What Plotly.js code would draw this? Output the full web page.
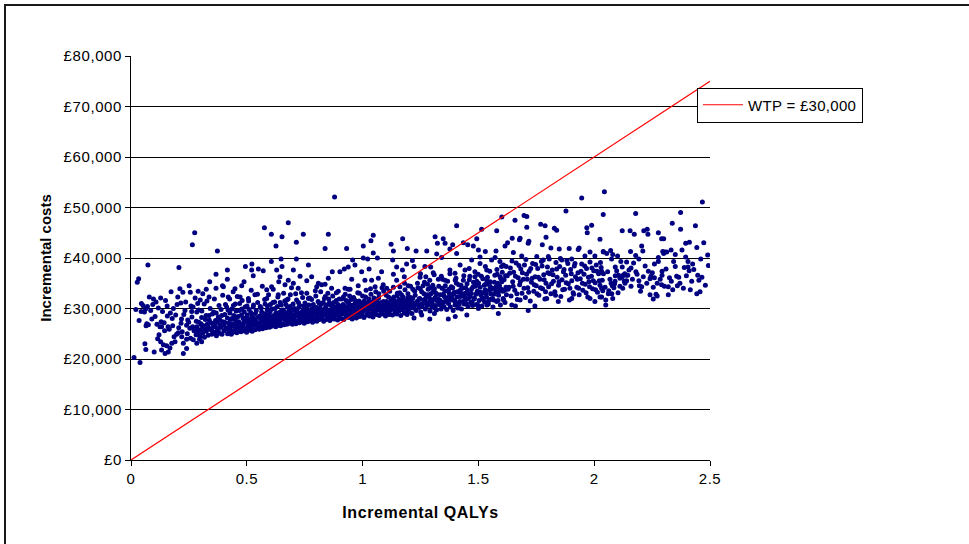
<!DOCTYPE html>
<html>
<head>
<meta charset="utf-8">
<script src="https://cdn.plot.ly/plotly-3.0.1.min.js"></script>
<style>
  html, body { margin:0; padding:0; background:#fff; overflow:hidden; }
  #wrap { position:relative; width:969px; height:544px; }
  #chart { position:absolute; left:0; top:0; width:969px; height:544px; }
  #frame { position:absolute; left:4px; top:4px; width:990px; height:600px; border:2px solid #1a1a1a; box-sizing:border-box; pointer-events:none; }
  .ytick text { letter-spacing:0.6px; }
  .xtick text { letter-spacing:0.5px; }
  .xtitle { letter-spacing:0.6px; }
  .legendtext { letter-spacing:0.3px; }
</style>
</head>
<body>
<div id="wrap"><div id="chart"></div><div id="frame"></div></div>
<script>
// Incremental QALYs / incremental costs (£) of the probabilistic simulations
const simulations = [
// sparse left part
[0.013,20300],[0.039,19300],[0.275,45000],[0.265,42600],[0.373,41400],[0.073,38600],[0.207,38100],[0.033,35900],[0.027,35200],
[0.367,36800],[0.340,35300],[0.395,34500],[0.367,34000],[0.290,33400],[0.325,33800],[0.310,32900],[0.224,33200],[0.256,33200],
[0.202,32300],[0.337,32300],[0.079,32300],[0.128,32100],[0.108,31300],[0.045,31000],[0.071,30400],[0.063,29900],[0.044,29400],
[0.058,29300],[0.094,30800],[0.156,30500],[0.215,31100],[0.259,30500],[0.288,31000],[0.183,30000],[0.233,29600],[0.262,29400],
[0.284,29300],[0.157,28500],[0.178,28000],[0.218,27900],[0.245,27700],[0.266,26400],[0.130,27400],[0.125,26400],[0.132,26400],
[0.160,26400],[0.068,27000],[0.075,26800],[0.065,26600],[0.216,27100],[0.240,26700],[0.254,26100],[0.284,26400],[0.305,26700],
[0.197,24900],[0.204,25200],[0.219,24400],[0.240,23900],[0.226,23100],[0.190,23400],[0.176,23100],[0.154,22600],[0.140,22800],
[0.128,23400],[0.132,21800],[0.147,21100],[0.161,21400],[0.100,21400],[0.060,23000],[0.064,21900],[0.226,21100],[0.240,22100],
[0.269,23800],[0.284,23100],[0.305,23400],
[0.021,29800],[0.035,27600],[0.052,30600],[0.085,29600],[0.090,27900],[0.097,31900],[0.104,28400],[0.112,26900],[0.118,30100],
[0.121,24800],[0.136,29400],[0.143,27200],[0.149,31600],[0.165,25900],[0.170,29100],[0.173,33300],[0.180,26600],[0.186,24400],
[0.193,28700],[0.199,30800],[0.206,26200],[0.211,33900],[0.221,25400],[0.228,28800],[0.236,31300],[0.243,25000],[0.249,27300],
[0.251,34500],[0.257,24100],[0.263,28300],[0.268,30300],[0.272,25600],[0.277,32100],[0.282,27500],[0.292,29700],[0.296,23900],
[0.299,31700],[0.115,24000],[0.168,22200],[0.145,25600],
// sparse 0.4 - 0.8
[0.576,46000],[0.679,47000],[0.606,44700],[0.652,44200],[0.626,42400],[0.714,43100],[0.744,44700],[0.714,39800],[0.648,39800],
[0.606,39300],[0.522,38800],[0.494,38300],[0.416,37600],[0.521,37600],[0.550,37800],[0.571,37500],[0.629,37600],[0.652,38300],
[0.701,37600],[0.766,38600],[0.528,36500],[0.416,35800],[0.488,35300],[0.643,36300],[0.679,35600],[0.730,36400],[0.780,36300],
[0.665,34700],[0.701,35000],[0.759,35500],[0.478,34500],[0.449,33900],[0.399,34300],[0.586,33700],[0.607,34300],[0.636,32700],
[0.722,34000],[0.802,34300],[0.535,32700],[0.471,32300],[0.420,32300],[0.507,32000],[0.586,32000],[0.672,31700],[0.766,32000],
// sparse 0.8 - 1.2
[0.879,52100],[0.852,44700],[0.838,41900],[0.931,41900],[1.003,42400],[1.036,43400],[1.046,44500],[1.046,41000],[1.123,42700],
[1.133,41400],[1.173,43800],[1.193,41900],[1.003,40000],[1.022,39800],[1.064,40000],[1.130,39600],[0.957,39600],[0.967,38600],
[0.921,37800],[0.902,37300],[0.869,37300],[0.938,38200],[0.996,37300],[1.028,37800],[1.082,37300],[1.147,38200],[1.172,37600],
[1.190,38800],[1.215,39500],[0.852,36000],[0.809,35000],[0.823,34700],[0.838,34800],[0.953,35800],[1.010,35600],[1.039,35600],
[1.068,36000],[1.133,36800],[1.147,35600],[1.180,36300],[0.866,34000],[0.924,34000],[0.938,33800],[0.981,34500],[1.054,34300],
[1.089,34700],[1.104,34000],[1.161,34300],[1.197,34500],
// sparse 1.2 - 1.6
[1.406,46400],[1.313,44200],[1.348,43800],[1.356,42900],[1.323,42900],[1.389,42600],[1.435,43000],[1.514,45700],[1.579,45400],
[1.601,48100],[1.493,43800],[1.454,42600],[1.478,42400],[1.231,41400],[1.277,41400],[1.320,40800],[1.377,41800],[1.406,40900],
[1.500,41600],[1.530,41300],[1.576,41400],[1.615,42400],[1.341,40100],[1.222,38300],[1.269,38300],[1.294,38200],[1.305,37100],
[1.377,37600],[1.399,37000],[1.421,38600],[1.442,37600],[1.471,39600],[1.507,38900],[1.507,40200],[1.557,39600],[1.572,40100],
[1.593,39300],[1.608,38600],[1.620,38300],[1.248,36200],[1.290,35600],[1.356,35600],[1.485,36300],[1.536,37600],[1.594,36300],
[1.222,28100],[1.255,28700],[1.290,27900],[1.310,29000],[1.370,27900],[1.400,28400],[1.450,28700],[1.500,30000],[1.537,30700],
[1.586,29000],
// sparse 1.6 - 2.05
[2.044,53100],[1.946,51900],[1.878,49300],[1.697,48400],[1.709,48200],[1.658,47500],[1.769,46700],[1.788,46400],[1.709,46100],
[1.828,45900],[1.838,45500],[1.989,46500],[1.968,46000],[1.970,45000],[1.792,44100],[1.680,43900],[1.677,43600],[1.646,43900],
[1.626,43000],[1.715,42900],[1.718,43300],[1.776,42600],[1.813,42000],[1.849,41800],[1.892,41900],[1.931,41700],[1.935,42000],
[2.025,43700],[2.040,41200],[1.982,41200],[1.687,40400],[1.651,41100],[1.752,40300],[1.802,40300],[1.780,39600],[1.860,39600],
[1.903,39800],[1.960,40400],[2.003,40400],[1.644,30700],[1.660,30500],[1.715,29600],[1.744,30500],[1.680,31700],[1.795,32000],
[1.845,31400],[1.903,32000],[1.982,32000],[2.003,31400],[2.032,32300],
// sparse right part
[2.467,51100],[2.039,48600],[2.179,48800],[2.373,49000],[2.337,46900],[2.437,46400],[2.373,45700],[2.121,45400],[2.155,45400],
[2.173,44700],[2.214,45400],[2.229,45700],[2.232,44700],[2.277,45000],[2.291,43800],[2.300,43800],[2.395,42900],[2.411,43100],
[2.473,43000],[2.205,42400],[2.210,41400],[2.443,42100],[2.379,41600],[2.332,41600],[2.296,41300],[2.305,41200],[2.313,41200],
[2.300,40900],[2.157,41300],[2.179,40500],[2.193,39800],[2.039,41300],[2.054,40900],[2.071,41500],[2.080,40700],[2.075,39800],
[2.101,40400],[2.277,40100],[2.277,39300],[2.343,39300],[2.405,39300],[2.425,38800],[2.389,38100],[2.405,38200],[2.410,37500],
[2.493,38500],[2.091,38200],[2.121,38200],[2.159,38000],[2.032,37400],[2.025,37200],[2.105,36600],[2.125,36600],[2.132,36900],
[2.138,36600],[2.145,36600],[2.120,36200],[2.111,36000],[2.091,36500],[2.234,37400],[2.251,37100],[2.293,37400],[2.293,36600],
[2.212,36300],[2.241,35900],[2.356,36400],[2.365,36200],[2.447,36600],[2.452,35600],[2.421,35400],[2.333,35400],[2.068,35800],
[2.073,35000],[2.078,34500],[2.088,34900],[2.090,35400],[2.133,35000],[2.130,35400],[2.193,35500],[2.195,34500],[2.205,34300],
[2.159,34400],[2.111,34400],[2.123,34000],[2.085,34100],[2.032,34000],[2.047,34200],[2.227,35000],[2.255,34200],[2.272,35000],
[2.291,34700],[2.303,34400],[2.320,34300],[2.359,34500],[2.339,33700],[2.061,32900],[2.076,32900],[2.050,31700],[2.050,30700],
[2.080,32000],[2.025,32300],[2.241,32700],[2.255,31900],[2.267,32800],[2.272,32500],[2.443,32900],[2.457,33300],
[2.058,37300],[2.063,33500],[2.097,37500],[2.103,33100],[2.115,39300],[2.140,35500],[2.150,37600],[2.165,35800],[2.170,39000],
[2.185,36800],[2.200,33400],[2.220,38400],[2.245,36400],[2.260,38800],[2.285,35800],[2.310,37800],[2.325,36100],[2.350,38300],
[2.370,35000],[2.385,34000],[2.398,36500],[2.415,33700],[2.430,37700],[2.465,36200],[2.480,34600],[2.490,40600],[2.350,40700],
[2.260,36100],[2.180,37300],[2.140,39200],[2.395,40200],[2.320,32700],[2.460,39800],
// dense band 0.28 - 0.42
[0.281,24800],[0.285,26000],[0.289,25300],[0.293,27300],[0.297,24500],[0.301,25800],[0.305,28200],[0.309,25100],[0.313,26600],
[0.317,24300],[0.321,27800],[0.325,25500],[0.329,26900],[0.333,24700],[0.337,28600],[0.341,25900],[0.345,27200],[0.349,24900],
[0.353,26300],[0.357,29300],[0.361,25300],[0.365,27600],[0.369,24600],[0.373,26000],[0.377,28300],[0.381,25100],[0.385,26800],
[0.389,29800],[0.393,24900],[0.397,27400],[0.401,25600],[0.405,28800],[0.409,26200],[0.413,30300],[0.417,25000],
[0.302,27000],[0.306,29500],[0.311,26100],[0.316,30900],[0.320,25900],[0.324,28600],[0.328,31500],[0.333,26400],[0.338,27700],
[0.342,30000],[0.347,25800],[0.351,28900],[0.356,27000],[0.360,31900],[0.364,26500],[0.368,29100],[0.372,27300],[0.376,25700],
[0.380,30600],[0.384,27700],[0.388,26300],[0.392,28600],[0.396,32600],[0.400,26800],[0.404,27300],[0.408,30800],[0.412,25900],
[0.416,28100],[0.419,29700],
// dense band 0.42 - 0.60
[0.421,27100],[0.424,25700],[0.427,29100],[0.430,26400],[0.433,24900],[0.436,28000],[0.439,25300],[0.442,30600],[0.445,26800],
[0.448,25500],[0.451,27700],[0.454,29500],[0.457,25200],[0.460,26200],[0.463,28400],[0.466,25800],[0.469,31000],[0.472,27000],
[0.475,25400],[0.478,29900],[0.481,26500],[0.484,28000],[0.487,25600],[0.490,27400],[0.493,30300],[0.496,26000],[0.499,25300],
[0.502,28700],[0.505,26700],[0.508,31500],[0.511,25700],[0.514,27800],[0.517,29200],[0.520,26300],[0.523,25500],[0.526,28200],
[0.529,30700],[0.532,26900],[0.535,25800],[0.538,27500],[0.541,29600],[0.544,26100],[0.547,31200],[0.550,27000],[0.553,25900],
[0.556,28500],[0.559,26400],[0.562,30100],[0.565,27700],[0.568,26000],[0.571,29000],[0.574,26700],[0.577,31800],[0.580,27300],
[0.583,26200],[0.586,28100],[0.589,30500],[0.592,26800],[0.595,27900],[0.598,26300],
[0.423,26300],[0.426,31900],[0.429,27800],[0.432,25600],[0.435,29900],[0.438,27000],[0.441,33300],[0.444,28600],[0.447,26400],
[0.450,30900],[0.453,28300],[0.456,26900],[0.459,32400],[0.465,27400],[0.468,29600],[0.474,26300],[0.477,28700],[0.480,31600],
[0.486,27100],[0.489,29300],[0.492,25900],[0.498,28200],[0.501,30500],[0.504,27500],[0.507,26300],[0.510,29800],[0.516,27000],
[0.519,33600],[0.522,28400],[0.525,26600],[0.528,30300],[0.531,27900],[0.537,29000],[0.540,26800],[0.546,32800],[0.549,28200],
[0.555,27200],[0.558,30400],[0.561,27300],[0.564,29300],[0.567,34400],[0.570,27600],[0.576,28700],[0.579,30900],[0.585,27300],
[0.588,29700],[0.591,27600],[0.594,32700],[0.597,28800],
// dense band 0.60 - 0.82
[0.601,29400],[0.604,27100],[0.607,26500],[0.610,28300],[0.613,31200],[0.616,26900],[0.619,27600],[0.622,30000],[0.625,26400],
[0.628,28800],[0.631,27300],[0.634,32300],[0.637,26700],[0.640,29200],[0.643,27900],[0.646,26600],[0.649,30700],[0.652,28300],
[0.655,27000],[0.658,29700],[0.661,26800],[0.664,31500],[0.667,27700],[0.670,28900],[0.673,26900],[0.676,30300],[0.679,27400],
[0.682,28500],[0.685,27100],[0.688,32700],[0.691,29100],[0.694,27800],[0.697,26900],[0.700,30900],[0.703,28200],[0.706,27300],
[0.709,29600],[0.712,27000],[0.715,31700],[0.718,28700],[0.721,27600],[0.724,30200],[0.727,27200],[0.730,29000],[0.733,28000],
[0.736,33100],[0.739,27400],[0.742,29400],[0.745,28400],[0.748,27100],[0.751,31100],[0.754,28800],[0.757,27700],[0.760,30500],
[0.763,27400],[0.766,29300],[0.769,28200],[0.772,32100],[0.775,27600],[0.778,29800],[0.781,28600],[0.784,27300],[0.787,30800],
[0.790,28900],[0.793,27900],[0.796,33500],[0.799,29500],[0.802,27500],[0.805,28400],[0.808,31400],[0.811,29000],[0.814,27800],
[0.817,30100],[0.820,28300],
[0.452,26000],[0.462,27300],[0.471,25800],[0.483,26600],[0.494,27900],[0.503,26200],[0.513,26900],[0.524,27400],[0.533,28000],
[0.543,27300],[0.552,26700],[0.563,28100],[0.573,27900],[0.582,28900],[0.593,28500],[0.603,27800],[0.612,26800],[0.623,27200],
[0.633,28600],[0.642,27500],[0.653,29100],[0.662,27900],[0.672,28100],[0.683,29300],[0.692,28100],[0.702,27800],[0.713,28500],
[0.722,29100],[0.732,27700],[0.743,28800],[0.752,28000],[0.762,28900],[0.773,29100],[0.782,28000],[0.792,29400],[0.803,28900],
[0.812,28300],[0.818,29700],
[0.602,30800],[0.605,28000],[0.608,29900],[0.611,27500],[0.614,33800],[0.617,28600],[0.620,31300],[0.626,29100],[0.629,27900],
[0.632,30400],[0.635,28400],[0.638,35300],[0.641,27600],[0.644,31200],[0.647,28800],[0.650,29600],[0.656,28100],[0.659,33000],
[0.663,29200],[0.666,28300],[0.669,30800],[0.675,27900],[0.678,31900],[0.681,29500],[0.684,28000],[0.687,30400],[0.690,28700],
[0.693,34100],[0.696,29800],[0.699,28400],[0.705,30000],[0.708,28800],[0.711,32900],[0.717,29400],[0.720,28500],[0.723,31200],
[0.726,28800],[0.729,30600],[0.735,29200],[0.738,28400],[0.741,32200],[0.744,29700],[0.747,30500],[0.750,28700],[0.756,29500],
[0.759,33000],[0.765,28600],[0.768,30700],[0.771,29600],[0.777,28400],[0.780,31800],[0.783,29900],[0.786,28800],[0.789,30300],
[0.795,29100],[0.798,32500],[0.801,30200],[0.807,29600],[0.810,28500],[0.813,31000],[0.816,29300],[0.819,33300],
// dense band 0.82 - 1.22
[0.823,30900],[0.826,28000],[0.829,29200],[0.832,27500],[0.835,32000],[0.838,28700],[0.841,30300],[0.844,27800],[0.847,29600],
[0.850,33000],[0.853,28300],[0.856,31100],[0.859,27600],[0.862,29000],[0.865,30600],[0.868,28100],[0.871,32500],[0.874,29400],
[0.877,27900],[0.880,30000],[0.883,28600],[0.886,31600],[0.889,29100],[0.892,27700],[0.895,33400],[0.898,28400],[0.901,30400],
[0.904,29700],[0.907,28000],[0.910,31900],[0.913,28900],[0.916,30800],[0.919,27800],[0.922,29300],[0.925,32800],[0.928,28500],
[0.931,30100],[0.934,29000],[0.937,31300],[0.940,28200],[0.943,29800],[0.946,33800],[0.949,28800],[0.952,30600],[0.955,27900],
[0.958,29500],[0.961,32200],[0.964,28600],[0.967,31000],[0.970,29200],[0.973,28100],[0.976,30300],[0.979,33100],[0.982,29000],
[0.985,31500],[0.988,28400],[0.991,29900],[0.994,30800],[0.997,28800],[1.000,32500],[1.003,29400],[1.006,28200],[1.009,31200],
[1.012,29700],[1.015,33600],[1.018,28700],[1.021,30500],[1.024,29200],[1.027,31900],[1.030,28500],[1.033,30100],[1.036,32800],
[1.039,29000],[1.042,30900],[1.045,28300],[1.048,29600],[1.051,31600],[1.054,29300],[1.057,33300],[1.060,28800],[1.063,30400],
[1.066,29800],[1.069,32100],[1.072,28600],[1.075,31100],[1.078,29400],[1.081,30000],[1.084,34100],[1.087,28900],[1.090,31400],
[1.093,29700],[1.096,30600],[1.099,28500],[1.102,32600],[1.105,29200],[1.108,31000],[1.111,30200],[1.114,28800],[1.117,33400],
[1.120,29600],[1.123,31700],[1.126,30400],[1.129,28700],[1.132,29900],[1.135,32300],[1.138,30800],[1.141,29300],[1.144,31200],
[1.147,28900],[1.150,33000],[1.153,30100],[1.156,29500],[1.159,31800],[1.162,30600],[1.165,28600],[1.168,32700],[1.171,29800],
[1.174,31000],[1.177,30300],[1.180,29100],[1.183,33700],[1.186,31500],[1.189,30000],[1.192,28800],[1.195,32100],[1.198,30700],
[1.201,29400],[1.204,31300],[1.207,34400],[1.210,30200],[1.213,29000],[1.216,32000],[1.219,30900],
[0.827,28900],[0.837,29900],[0.848,28500],[0.858,29700],[0.869,29300],[0.879,28800],[0.890,30200],[0.900,29100],[0.911,29900],
[0.921,30600],[0.932,28700],[0.942,30900],[0.953,29300],[0.963,30200],[0.974,29600],[0.984,30500],[0.995,29600],[1.005,30700],
[1.016,30100],[1.026,29800],[1.037,31300],[1.047,30300],[1.058,30800],[1.068,31000],[1.079,30600],[1.089,30100],[1.100,31000],
[1.110,29500],[1.121,30500],[1.131,31000],[1.142,30200],[1.152,31300],[1.163,29700],[1.173,31900],[1.184,30700],[1.194,29700],
[1.205,30600],[1.215,31100],
[0.824,29500],[0.830,31200],[0.833,28900],[0.839,32400],[0.842,29600],[0.845,30700],[0.851,29000],[0.854,31900],[0.857,28500],
[0.863,30900],[0.866,29700],[0.872,28800],[0.875,31200],[0.878,30300],[0.884,29400],[0.887,33100],[0.893,30800],[0.896,29400],
[0.899,31900],[0.905,28900],[0.908,30500],[0.914,29800],[0.917,32300],[0.923,30300],[0.926,29300],[0.929,31600],[0.935,30300],
[0.938,29500],[0.944,32500],[0.947,29900],[0.950,31800],[0.956,30600],[0.959,29700],[0.965,31800],[0.968,30300],[0.971,29800],
[0.977,31400],[0.980,30000],[0.986,33000],[0.989,29900],[0.992,31100],[0.998,30200],[1.001,29800],[1.007,31500],[1.010,30300],
[1.013,32300],[1.019,30700],[1.022,29800],[1.028,31200],[1.031,30400],[1.034,33900],[1.040,30600],[1.043,29900],[1.049,32100],
[1.052,30900],[1.055,29800],[1.061,31400],[1.064,30100],[1.070,32900],[1.073,30500],[1.076,29900],[1.082,31200],[1.085,30400],
[1.091,33400],[1.094,30900],[1.097,29800],[1.103,31400],[1.106,30400],[1.112,32300],[1.115,30800],[1.118,29900],[1.124,31900],
[1.127,30800],[1.133,34200],[1.136,30300],[1.139,31500],[1.145,30000],[1.148,32500],[1.154,31000],[1.157,30400],[1.160,33100],
[1.166,31200],[1.169,30200],[1.175,32300],[1.178,30800],[1.181,35000],[1.187,31300],[1.190,30300],[1.196,32900],[1.199,31400],
[1.202,30600],[1.208,32200],[1.211,31300],[1.217,33800],[1.220,30100],
// dense band 1.22 - 1.62
[1.223,30500],[1.227,32600],[1.231,29600],[1.235,31400],[1.239,34100],[1.243,30200],[1.247,32000],[1.251,29300],[1.255,33300],
[1.259,30900],[1.263,31700],[1.267,35200],[1.271,29900],[1.275,32400],[1.279,30600],[1.283,33800],[1.287,31200],[1.291,29500],
[1.295,32900],[1.299,30300],[1.303,34600],[1.307,31800],[1.311,30100],[1.315,33100],[1.319,29700],[1.323,31500],[1.327,35800],
[1.331,30800],[1.335,32700],[1.339,29900],[1.343,34000],[1.347,31300],[1.351,30400],[1.355,33500],[1.359,32100],[1.363,29800],
[1.367,35400],[1.371,31000],[1.375,32900],[1.379,30300],[1.383,34300],[1.387,31700],[1.391,29600],[1.395,33200],[1.399,30700],
[1.403,36000],[1.407,32300],[1.411,30100],[1.415,34700],[1.419,31400],[1.423,33700],[1.427,29900],[1.431,32500],[1.435,35600],
[1.439,30900],[1.443,33000],[1.447,31800],[1.451,34900],[1.455,30400],[1.459,32800],[1.463,36400],[1.467,31200],[1.471,33900],
[1.475,30600],[1.479,35200],[1.483,32100],[1.487,34400],[1.491,30800],[1.495,33400],[1.499,36800],[1.503,31600],[1.507,34200],
[1.511,32600],[1.515,30500],[1.519,35900],[1.523,33100],[1.527,31300],[1.531,34800],[1.535,32300],[1.539,36200],[1.543,30900],
[1.547,33600],[1.551,35300],[1.555,31900],[1.559,34000],[1.563,30300],[1.567,32800],[1.571,36600],[1.575,33300],[1.579,31400],
[1.583,35000],[1.587,32600],[1.591,34500],[1.595,30700],[1.599,33800],[1.603,37200],[1.607,32000],[1.611,35700],[1.615,31200],
[1.619,34200],
[1.229,31000],[1.241,31600],[1.253,30800],[1.265,32900],[1.277,31200],[1.289,32100],[1.301,31000],[1.313,32200],[1.325,31900],
[1.337,31100],[1.349,32800],[1.361,31500],[1.373,33800],[1.385,32300],[1.397,31600],[1.409,33300],[1.421,32400],[1.433,31400],
[1.445,34100],[1.457,32000],[1.469,33000],[1.481,31900],[1.493,35400],[1.505,33000],[1.517,32100],[1.529,33700],[1.541,34900],
[1.553,32900],[1.565,31700],[1.577,34300],[1.589,33400],[1.601,35300],[1.613,33600],
[1.225,33400],[1.233,30900],[1.237,35000],[1.245,31900],[1.249,33900],[1.257,30400],[1.261,34500],[1.269,31800],[1.273,36300],
[1.281,32700],[1.285,30800],[1.293,34100],[1.297,31600],[1.305,33300],[1.309,36700],[1.317,30600],[1.321,32800],[1.329,34400],
[1.333,31700],[1.341,30700],[1.345,35800],[1.353,32400],[1.357,34500],[1.365,31300],[1.369,33400],[1.377,36900],[1.381,31800],
[1.389,34100],[1.393,32900],[1.401,31200],[1.405,35000],[1.413,33200],[1.417,30800],[1.425,34600],[1.429,32900],[1.437,36500],
[1.441,32300],[1.449,30900],[1.453,33600],[1.461,35700],[1.465,32400],[1.473,31300],[1.477,34300],[1.485,37300],[1.489,32800],
[1.497,30700],[1.501,35000],[1.509,33200],[1.513,36400],[1.521,31800],[1.525,34600],[1.533,32900],[1.537,35500],[1.545,31600],
[1.549,37400],[1.557,33800],[1.561,32000],[1.569,35200],[1.573,34100],[1.581,36800],[1.585,31600],[1.593,33700],[1.597,35900],
[1.605,33400],[1.609,31700],[1.617,36500],[1.621,32700],[1.490,34800],[1.430,34000],[1.370,32200],[1.310,33900],[1.550,34400],
[1.600,38300],[1.460,37900],[1.530,38300],[1.580,37700],[1.400,35600],[1.340,36400],[1.280,34800],[1.250,36900],
// band 1.62 - 2.04
[1.625,36500],[1.632,34200],[1.638,38000],[1.641,32500],[1.648,35300],[1.652,37200],[1.657,33600],[1.663,39000],[1.668,31800],
[1.672,36100],[1.678,34700],[1.683,37800],[1.688,33000],[1.694,35800],[1.699,38600],[1.703,32200],[1.708,36800],[1.713,34100],
[1.719,37400],[1.724,31500],[1.729,35200],[1.734,38900],[1.739,33400],[1.745,36300],[1.750,34500],[1.756,37900],[1.761,32600],
[1.766,35800],[1.772,39300],[1.777,33900],[1.782,36700],[1.787,31900],[1.792,35000],[1.798,38200],[1.803,34300],[1.808,36900],
[1.813,32900],[1.819,37600],[1.824,35400],[1.830,33300],[1.835,39100],[1.840,36200],[1.846,34600],[1.851,38300],[1.856,32400],
[1.861,35700],[1.867,37300],[1.872,33800],[1.877,36600],[1.882,39500],[1.888,34900],[1.893,31700],[1.898,37700],[1.903,35500],
[1.909,33100],[1.914,38400],[1.919,36300],[1.925,34200],[1.930,37100],[1.935,32700],[1.940,35900],[1.946,38800],[1.951,33600],
[1.956,36800],[1.961,34800],[1.967,37900],[1.972,32300],[1.977,35300],[1.982,39200],[1.988,36400],[1.993,33900],[1.998,37500],
[2.004,35100],[2.009,38600],[2.014,33200],[2.019,36900],[2.025,34600],[2.030,38100],[2.035,35600],[2.040,36900],
[1.628,33800],[1.635,37000],[1.645,39400],[1.650,34400],[1.660,36400],[1.666,32900],[1.675,38500],[1.681,35300],[1.690,37100],
[1.697,34000],[1.705,39700],[1.711,35800],[1.717,33200],[1.726,37900],[1.732,36000],[1.741,34700],[1.747,38700],[1.753,32900],
[1.759,36200],[1.768,34100],[1.775,38400],[1.784,35700],[1.790,33300],[1.800,37100],[1.806,39800],[1.816,34900],[1.822,36700],
[1.833,32600],[1.838,37800],[1.848,35300],[1.854,39900],[1.864,33700],[1.870,37700],[1.879,35100],[1.886,38900],[1.895,34000],
[1.901,36900],[1.911,32800],[1.917,38900],[1.927,35800],[1.933,34000],[1.943,37400],[1.949,35000],[1.959,38400],[1.965,33100],
[1.975,36200],[1.980,34300],[1.990,38000],[1.996,35500],[2.006,33700],[2.012,37400],[2.022,35500],[2.027,39100],[2.037,33500]
];

const qalys = simulations.map(p => p[0]);
const costs = simulations.map(p => p[1]);

// Willingness-to-pay threshold line
const wtpLabel = 'WTP = £30,000';
const wtpQalys = [0, 2.5];
const wtpCosts = [0, 75000];

const xTickVals = [0, 0.5, 1, 1.5, 2, 2.5];
const xTickText = ['0', '0.5', '1', '1.5', '2', '2.5'];
const yTickVals = [0, 10000, 20000, 30000, 40000, 50000, 60000, 70000, 80000];
const yTickText = ['£0', '£10,000', '£20,000', '£30,000', '£40,000', '£50,000', '£60,000', '£70,000', '£80,000'];

const FONT = '"Liberation Sans", Arial, sans-serif';

const traces = [
  {
    type: 'scatter', mode: 'markers', x: qalys, y: costs,
    marker: { color: '#000080', size: 5, line: { width: 0 } },
    showlegend: false, hoverinfo: 'skip', cliponaxis: true
  },
  {
    type: 'scatter', mode: 'lines', x: wtpQalys, y: wtpCosts, name: wtpLabel,
    line: { color: '#ff0000', width: 1.2 }, hoverinfo: 'skip'
  }
];

const layout = {
  width: 969, height: 544,
  margin: { l: 131, r: 259, t: 56, b: 84, pad: 0 },
  paper_bgcolor: '#ffffff', plot_bgcolor: '#ffffff',
  font: { family: FONT, color: '#000000', size: 15 },
  showlegend: true,
  legend: {
    x: 0.9775, y: 0.922, xanchor: 'left', yanchor: 'top',
    bgcolor: '#ffffff', bordercolor: '#000000', borderwidth: 1,
    font: { family: FONT, size: 15, color: '#000000' },
    itemwidth: 40
  },
  xaxis: {
    range: [0, 2.5], tickvals: xTickVals, ticktext: xTickText,
    showgrid: false, zeroline: false, showline: true, linecolor: '#000000', linewidth: 1,
    ticks: 'outside', ticklen: 5, tickcolor: '#000000', tickwidth: 1,
    tickfont: { family: FONT, size: 15, color: '#000000' },
    title: { text: 'Incremental QALYs', font: { family: FONT, size: 16, weight: 'bold', color: '#000000' }, standoff: 20 },
    fixedrange: true
  },
  yaxis: {
    range: [0, 80000], tickvals: yTickVals, ticktext: yTickText,
    showgrid: true, gridcolor: '#000000', gridwidth: 1,
    zeroline: false, showline: true, linecolor: '#000000', linewidth: 1,
    ticks: 'outside', ticklen: 5, tickcolor: '#000000', tickwidth: 1,
    tickfont: { family: FONT, size: 15, color: '#000000' },
    title: { text: 'Incremental costs', font: { family: FONT, size: 15, weight: 'bold', color: '#000000' }, standoff: 8 },
    fixedrange: true
  },
  hovermode: false
};

Plotly.newPlot('chart', traces, layout, { displayModeBar: false, staticPlot: true });
</script>
</body>
</html>
